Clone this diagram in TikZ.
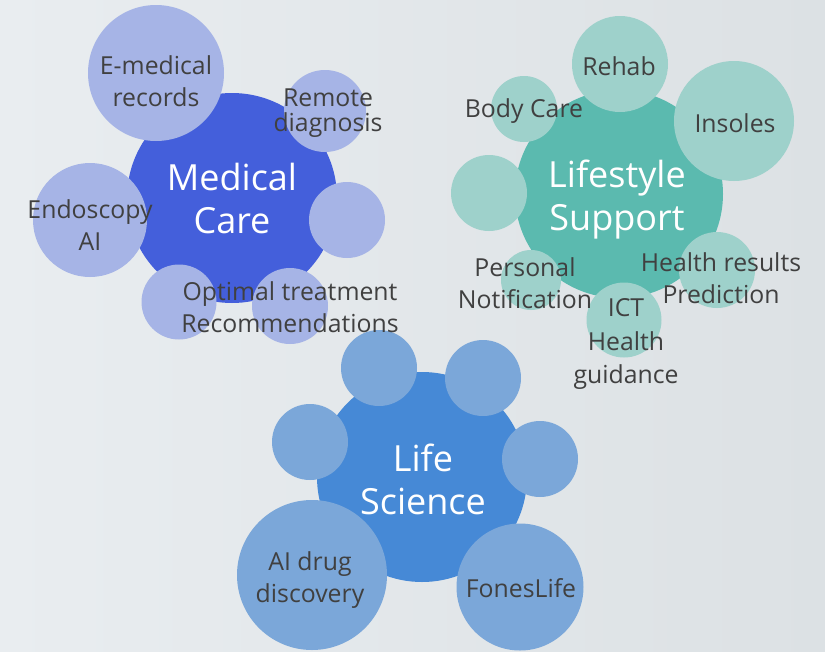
\documentclass[tikz,border=0pt]{standalone}
\usepackage{fontspec}
\setmainfont{Open Sans}
\begin{document}
\begin{tikzpicture}[x=1pt,y=-1pt,
  bub/.style={circle,inner sep=0pt,minimum size=#1},
  medbig/.style={fill=medA},
  medsat/.style={fill=medB},
  lifbig/.style={fill=lifA},
  lifsat/.style={fill=lifB},
  scibig/.style={fill=sciA},
  scisat/.style={fill=sciB},
  lbl/.style={text=txtc,align=center,font=\fontsize{24.8}{32}\selectfont,inner sep=0pt},
  lblwide/.style={text=txtc,align=center,font=\fontsize{24.8}{33.5}\selectfont,inner sep=0pt},
  lbltight/.style={text=txtc,align=center,font=\fontsize{24.8}{25}\selectfont,inner sep=0pt},
  big/.style={text=white,align=center,font=\fontsize{36}{43}\selectfont,inner sep=0pt}]
\definecolor{medA}{HTML}{445FDB}
\definecolor{medB}{HTML}{A6B4E6}
\definecolor{lifA}{HTML}{5BBAAF}
\definecolor{lifB}{HTML}{9ED1CB}
\definecolor{sciA}{HTML}{4689D6}
\definecolor{sciB}{HTML}{7BA7D9}
\definecolor{txtc}{HTML}{404040}
\definecolor{bgA}{HTML}{E9EDF0}
\definecolor{bgB}{HTML}{DCE1E4}
\useasboundingbox (0,0) rectangle (825,651);
\clip (0,0) rectangle (825,651);
\shade[left color=bgA,right color=bgB] (0,0) rectangle (825,651);
% Medical Care
\node[bub=210,medbig] (mc) at (232,198) {};
\node[bub=136,medsat] (emr) at (156,73) {};
\node[bub=82,medsat] (rd) at (325,111) {};
\node[bub=76,medsat] (mce) at (347,220) {};
\node[bub=114,medsat] (endo) at (90,220) {};
\node[bub=75,medsat] (mcb) at (179,302) {};
\node[bub=76,medsat] (opt) at (290,306) {};
% Lifestyle Support
\node[bub=208,lifbig] (ls) at (619,194) {};
\node[bub=96,lifsat] (reh) at (620,64) {};
\node[bub=66,lifsat] (bc) at (524,109) {};
\node[bub=120,lifsat] (ins) at (734,121) {};
\node[bub=76,lifsat] (lse) at (489,193) {};
\node[bub=60,lifsat] (pn) at (531,280) {};
\node[bub=76,lifsat] (hr) at (717,270) {};
\node[bub=75,lifsat] (ict) at (624,320) {};
% Life Science
\node[bub=210,scibig] (lsc) at (422,477) {};
\node[bub=76,scisat] (s1) at (379,368) {};
\node[bub=76,scisat] (s2) at (483,378) {};
\node[bub=76,scisat] (s3) at (310,442) {};
\node[bub=76,scisat] (s4) at (540,459) {};
\node[bub=150,scisat] (aid) at (312,575) {};
\node[bub=127,scisat] (fl) at (520,587) {};
% labels
\node[big] (tmc) at (232,198) {Medical\\Care};
\node[lbl] (temr) at (156,81) {E-medical\\records};
\node[lbltight] (trd) at (328,113) {Remote\\diagnosis};
\node[lbl] (tendo) at (90,225) {Endoscopy\\AI};
\node[lbl] (topt) at (290,307) {Optimal treatment\\Recommendations};
\node[big] (tls) at (617,200) {Lifestyle\\Support};
\node[lbl] (treh) at (619,66) {Rehab};
\node[lbl] (tbc) at (524,111) {Body Care};
\node[lbl] (tins) at (735,123) {Insoles};
\node[lbl] (tpn) at (525,283) {Personal\\Notification};
\node[lbl] (thr) at (721,278) {Health results\\Prediction};
\node[lblwide] (tict) at (626,344) {ICT\\Health\\guidance};
\node[big] (tlsc) at (423,479) {Life\\Science};
\node[lbl] (taid) at (310,580) {AI drug\\discovery};
\node[lbl] (tfl) at (521,588) {FonesLife};
\end{tikzpicture}
\end{document}
